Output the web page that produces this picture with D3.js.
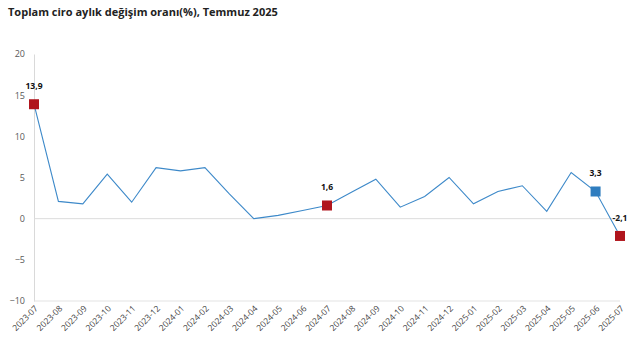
<!DOCTYPE html>
<html>
<head>
<meta charset="utf-8">
<script src="https://cdn.jsdelivr.net/npm/d3@7"></script>
<style>
  body { margin: 0; background: #fff; }
  text { font-family: "Open Sans", "Noto Sans", sans-serif; }
</style>
</head>
<body>
<svg id="chart" width="637" height="353"></svg>
<script>
const months = ["2023-07","2023-08","2023-09","2023-10","2023-11","2023-12",
    "2024-01","2024-02","2024-03","2024-04","2024-05","2024-06","2024-07",
    "2024-08","2024-09","2024-10","2024-11","2024-12","2025-01","2025-02",
    "2025-03","2025-04","2025-05","2025-06","2025-07"];
const values = [13.9, 2.1, 1.8, 5.4, 2.0, 6.2, 5.8, 6.2, 3.0, 0.0, 0.4, 1.0, 1.6,
    3.2, 4.8, 1.4, 2.7, 5.0, 1.8, 3.3, 4.0, 0.9, 5.6, 3.3, -2.1];
const yTicks = [-10, -5, 0, 5, 10, 15, 20];
// highlighted points: index -> colour
const highlights = [
    {i: 0, color: "#b0151d"},
    {i: 12, color: "#b0151d"},
    {i: 23, color: "#2f7dbf"},
    {i: 24, color: "#b0151d"}
];

const svg = d3.select("#chart");
const margin = {top: 54, left: 34, right: 17, bottom: 52};
const width = 637 - margin.left - margin.right;
const height = 353 - margin.top - margin.bottom;

svg.append("text")
    .attr("x", 8).attr("y", 16)
    .attr("font-size", 11).attr("font-weight", "bold")
    .attr("fill", "#222")
    .text("Toplam ciro aylık değişim oranı(%), Temmuz 2025");

const g = svg.append("g").attr("transform", "translate(" + margin.left + "," + margin.top + ")");

const x = d3.scalePoint().domain(months).range([0, width]);
const y = d3.scaleLinear().domain([-10, 20]).range([height, 0]);

// y axis
const yAxis = g.append("g").call(d3.axisLeft(y).tickValues(yTicks).tickSize(0).tickPadding(9));
yAxis.select(".domain").attr("stroke", "#d9d9d9");
yAxis.selectAll("text").attr("fill", "#595959").attr("font-size", 9);

// zero line and bottom line
g.append("line").attr("x1", 0).attr("x2", width)
    .attr("y1", y(0)).attr("y2", y(0)).attr("stroke", "#dcdcdc");
g.append("line").attr("x1", 0).attr("x2", width)
    .attr("y1", y(-10)).attr("y2", y(-10)).attr("stroke", "#e3e3e3");

// x axis
const xAxis = g.append("g")
    .attr("transform", "translate(0," + height + ")")
    .call(d3.axisBottom(x).tickSize(0).tickPadding(0));
xAxis.select(".domain").remove();
xAxis.selectAll("text")
    .attr("fill", "#404040")
    .attr("font-size", 8.5)
    .attr("text-anchor", "end")
    .attr("dy", null)
    .attr("transform", "translate(4,8) rotate(-45)");

// line
const line = d3.line().x((d, i) => x(months[i])).y(d => y(d));
g.append("path")
    .datum(values)
    .attr("fill", "none")
    .attr("stroke", "#3d89c9")
    .attr("stroke-width", 1.1)
    .attr("d", line);

// markers
const s = 10;
const pts = g.selectAll(".pt").data(highlights).enter().append("g").attr("class", "pt");
pts.append("rect")
    .attr("x", d => x(months[d.i]) - s / 2)
    .attr("y", d => y(values[d.i]) - s / 2)
    .attr("width", s).attr("height", s)
    .attr("fill", d => d.color);
pts.append("text")
    .attr("x", d => x(months[d.i]))
    .attr("y", d => y(values[d.i]) - 15)
    .attr("text-anchor", "middle")
    .attr("font-size", 8.5).attr("font-weight", "bold")
    .attr("fill", "#111")
    .text(d => String(values[d.i]).replace(".", ","));
</script>
</body>
</html>
